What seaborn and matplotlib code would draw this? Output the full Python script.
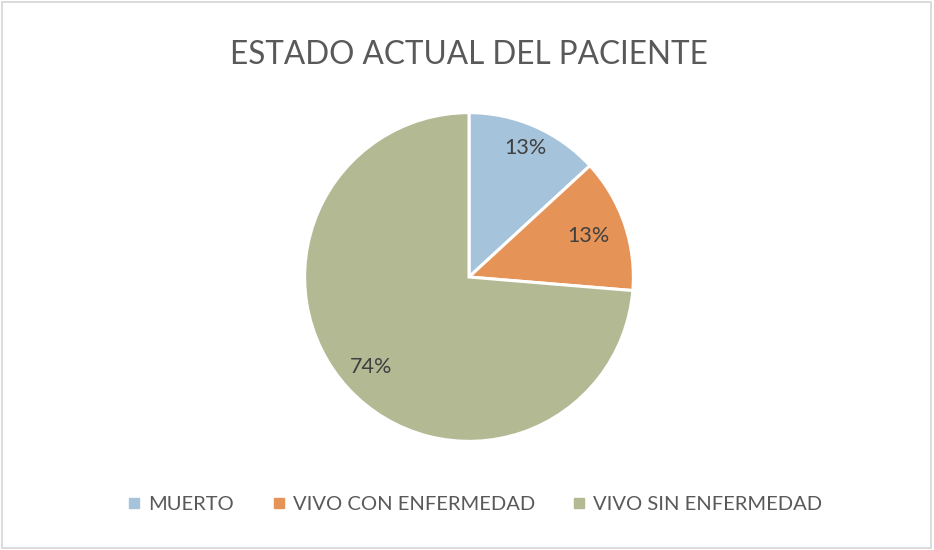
import numpy as np
import seaborn as sns
import matplotlib.pyplot as plt
from matplotlib.lines import Line2D
from matplotlib.patches import Rectangle

# data
estados = ["MUERTO", "VIVO CON ENFERMEDAD", "VIVO SIN ENFERMEDAD"]
pacientes = [5, 5, 28]
colores = ["#A5C3DA", "#E69358", "#B2B993"]
# radial position of each percent label (fraction of radius)
lbl_dist = [0.86, 0.77, 0.81]

sns.set_theme(style="white")
plt.rcParams["font.family"] = ["Lato", "DejaVu Sans"]

fig = plt.figure(figsize=(9.34, 5.5), dpi=100)
fig.patch.set_facecolor("white")
fig.add_artist(Rectangle((0.002, 0.003), 0.995, 0.993, transform=fig.transFigure,
                         fill=False, edgecolor="#D9D9D9", linewidth=1.3))

# axes sized so the pie has ~165 px radius, centred at (469, 277)
W, H = 934, 550
cx, cy, r = 469, 277, 166
ax = fig.add_axes([(cx - r) / W, (H - cy - r) / H, 2 * r / W, 2 * r / H])

wedges, _ = ax.pie(
    pacientes,
    colors=colores,
    startangle=90,
    counterclock=False,
    radius=1.0,
    wedgeprops=dict(edgecolor="white", linewidth=2.2),
)
ax.set_xlim(-1.01, 1.01)
ax.set_ylim(-1.01, 1.01)
ax.set_aspect("equal")
ax.axis("off")

total = sum(pacientes)
for w, v, d in zip(wedges, pacientes, lbl_dist):
    ang = np.deg2rad((w.theta1 + w.theta2) / 2)
    ax.text(d * np.cos(ang), d * np.sin(ang), f"{round(100 * v / total)}%",
            ha="center", va="center", fontsize=15.5, color="#404040")

fig.text(0.502, 0.9, "ESTADO ACTUAL DEL PACIENTE", ha="center", va="center",
         fontsize=22.7, color="#595959")

handles = [Line2D([], [], marker="s", linestyle="none", markersize=7,
                  markerfacecolor=c, markeredgecolor=c) for c in colores]
fig.legend(handles, estados, loc="center", bbox_to_anchor=(0.508, 0.082),
           ncol=3, frameon=False, fontsize=14.5, handletextpad=0.3,
           columnspacing=1.8, handlelength=0.8, labelcolor="#595959")

fig.savefig("out.png", dpi=100)
